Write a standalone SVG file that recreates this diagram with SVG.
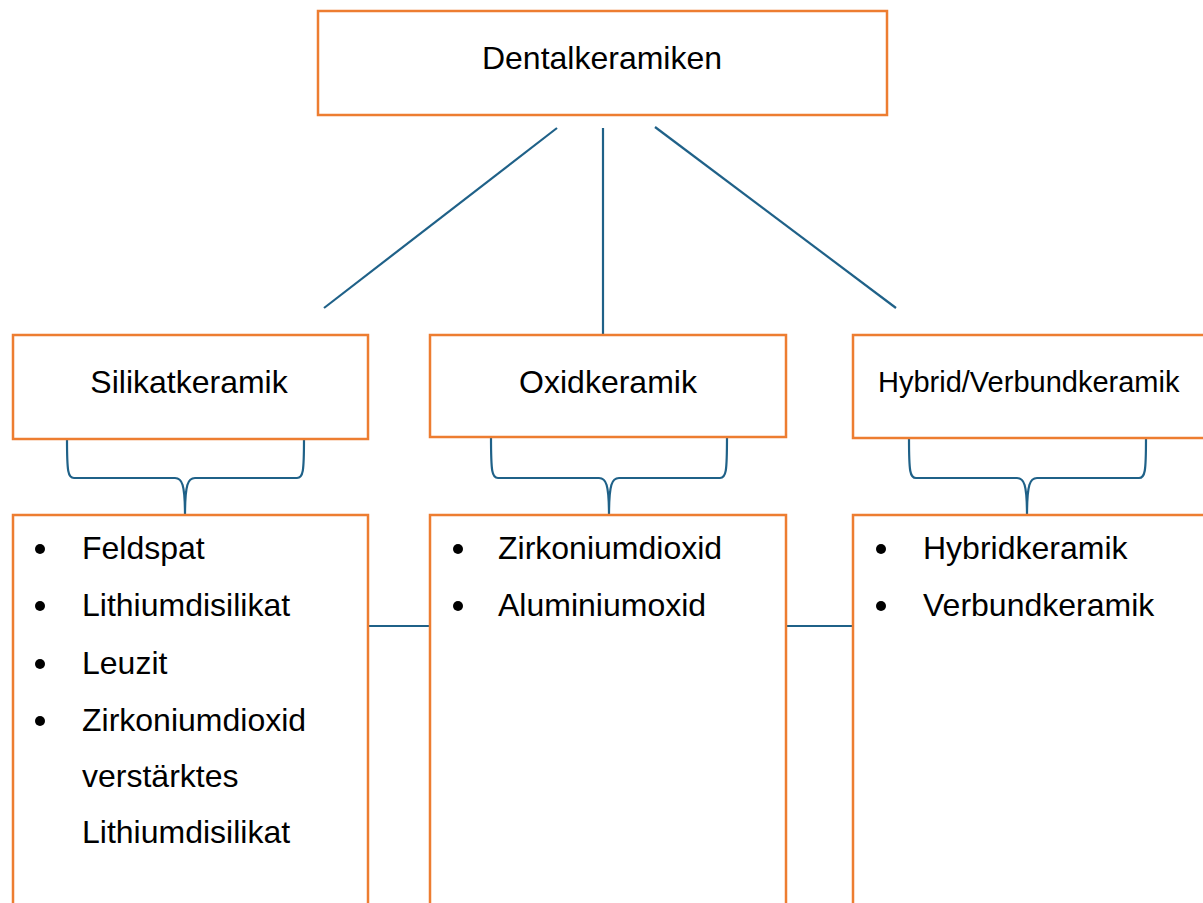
<svg xmlns="http://www.w3.org/2000/svg" width="1203" height="903" viewBox="0 0 1203 903">
<style>
.box{fill:#fff;stroke:#ED7D31;stroke-width:2.5}
.con{fill:none;stroke:#1F6188;stroke-width:2.2}
text{font-family:"Liberation Sans",Arial,sans-serif;fill:#000}
.t{font-size:32px}
.ts{font-size:29px}
.li{font-size:32px}
</style>
<rect width="1203" height="903" fill="#fff"/>
<g id="connectors">
<line class="con" x1="557" y1="128" x2="324" y2="308"/>
<line class="con" x1="603" y1="128" x2="603" y2="334"/>
<line class="con" x1="655" y1="127" x2="896" y2="308"/>
<path class="con" d="M67,439 C67,472 68,478 74,478 L175,478 C182,478 185,484 185,516 C185,484 188,478 195,478 L297,478 C303,478 304,472 304,439"/>
<path class="con" d="M491,437 C491,472 492,478 498,478 L599,478 C606,478 609,484 609,516 C609,484 612,478 619,478 L720,478 C726,478 727,472 727,437"/>
<path class="con" d="M909,438 C909,472 910,478 916,478 L1017,478 C1024,478 1027,484 1027,516 C1027,484 1030,478 1037,478 L1139,478 C1145,478 1146,472 1146,438"/>
<line class="con" x1="368" y1="626" x2="430" y2="626"/>
<line class="con" x1="786" y1="626" x2="853" y2="626"/>
</g>
<g id="dentalkeramiken">
<rect class="box" x="318" y="11" width="569" height="104"/>
<text class="t" x="602" y="69" text-anchor="middle">Dentalkeramiken</text>
</g>
<g id="silikatkeramik">
<rect class="box" x="13" y="335" width="355" height="104"/>
<text class="t" x="189" y="393" text-anchor="middle">Silikatkeramik</text>
</g>
<g id="oxidkeramik">
<rect class="box" x="430" y="335" width="356" height="102"/>
<text class="t" x="608" y="393" text-anchor="middle">Oxidkeramik</text>
</g>
<g id="hybridkeramik">
<rect class="box" x="853" y="335" width="360" height="103"/>
<text class="ts" x="878" y="392">Hybrid/Verbundkeramik</text>
</g>
<g id="silikat-liste">
<rect class="box" x="13" y="515" width="355" height="400"/>
<g class="li">
<circle cx="40" cy="549" r="5"/><text x="82" y="559">Feldspat</text>
<circle cx="40" cy="606" r="5"/><text x="82" y="616">Lithiumdisilikat</text>
<circle cx="40" cy="664" r="5"/><text x="82" y="674">Leuzit</text>
<circle cx="40" cy="721" r="5"/><text x="82" y="731">Zirkoniumdioxid</text>
<text x="82" y="787">verstärktes</text>
<text x="82" y="843">Lithiumdisilikat</text>
</g>
</g>
<g id="oxid-liste">
<rect class="box" x="430" y="515" width="356" height="400"/>
<g class="li">
<circle cx="458" cy="549" r="5"/><text x="498" y="559">Zirkoniumdioxid</text>
<circle cx="458" cy="606" r="5"/><text x="498" y="616">Aluminiumoxid</text>
</g>
</g>
<g id="hybrid-liste">
<rect class="box" x="853" y="515" width="360" height="400"/>
<g class="li">
<circle cx="881" cy="549" r="5"/><text x="923" y="559">Hybridkeramik</text>
<circle cx="881" cy="606" r="5"/><text x="923" y="616">Verbundkeramik</text>
</g>
</g>
</svg>
